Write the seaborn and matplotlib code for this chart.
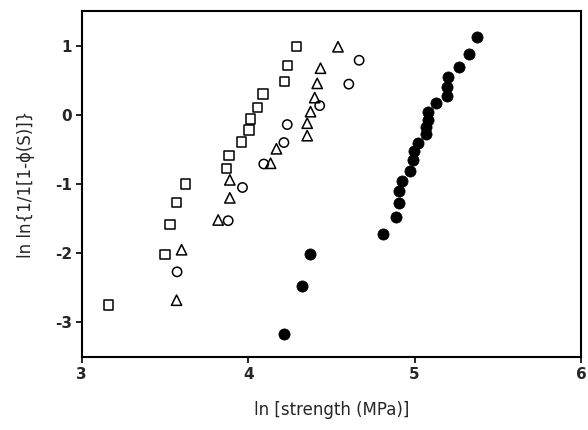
import matplotlib
matplotlib.use("Agg")
import matplotlib.pyplot as plt
import seaborn as sns
import pandas as pd

# Open squares
sq_x = [3.16, 3.50, 3.53, 3.57, 3.625, 3.87, 3.885, 3.96, 4.006, 4.014, 4.057, 4.09, 4.22, 4.235, 4.29]
sq_y = [-2.75, -2.02, -1.59, -1.27, -1.00, -0.78, -0.59, -0.39, -0.22, -0.06, 0.105, 0.30, 0.48, 0.71, 0.985]

# Open triangles
tri_x = [3.57, 3.60, 3.82, 3.89, 3.89, 4.135, 4.17, 4.355, 4.355, 4.375, 4.40, 4.415, 4.435, 4.54]
tri_y = [-2.68, -1.95, -1.52, -1.20, -0.94, -0.70, -0.49, -0.30, -0.12, 0.047, 0.25, 0.456, 0.675, 0.985]

# Open circles
circ_x = [3.573, 3.88, 3.966, 4.094, 4.215, 4.235, 4.43, 4.605, 4.667]
circ_y = [-2.27, -1.53, -1.05, -0.71, -0.40, -0.14, 0.134, 0.445, 0.79]

# Filled circles
fill_x = [4.216, 4.322, 4.37, 4.81, 4.89, 4.906, 4.907, 4.926, 4.972, 4.992, 4.998, 5.022,
          5.069, 5.069, 5.083, 5.079, 5.129, 5.197, 5.197, 5.203, 5.269, 5.329, 5.373]
fill_y = [-3.17, -2.47, -2.01, -1.72, -1.48, -1.28, -1.10, -0.95, -0.805, -0.65, -0.52, -0.40,
          -0.28, -0.17, -0.07, 0.047, 0.167, 0.28, 0.41, 0.55, 0.69, 0.875, 1.13]

xticks = [3, 4, 5, 6]
yticks = [-3, -2, -1, 0, 1]

sns.set_theme(style="white")
plt.rcParams['font.family'] = ['DejaVu Sans']

fig = plt.figure(figsize=(5.88, 4.30), dpi=100)
ax = fig.add_axes([0.139, 0.170, 0.849, 0.804])

sns.scatterplot(x=sq_x, y=sq_y, marker='s', s=45, facecolor='none', edgecolor='black',
                linewidth=1.1, ax=ax)
sns.scatterplot(x=tri_x, y=tri_y, marker='^', s=55, facecolor='none', edgecolor='black',
                linewidth=1.1, ax=ax)
sns.scatterplot(x=circ_x, y=circ_y, marker='o', s=45, facecolor='none', edgecolor='black',
                linewidth=1.1, ax=ax)
sns.scatterplot(x=fill_x, y=fill_y, marker='o', s=65, color='black', edgecolor='black',
                linewidth=0.5, ax=ax)

ax.set_xlim(3, 6)
ax.set_ylim(-3.5, 1.5)
ax.set_xticks(xticks)
ax.set_yticks(yticks)
ax.set_xticklabels([str(t) for t in xticks], fontsize=11, fontweight='bold')
ax.set_yticklabels([str(t) for t in yticks], fontsize=11, fontweight='bold')
ax.tick_params(axis='both', direction='out', length=4, width=1.2, color='black',
               bottom=True, left=True, pad=3)
for sp in ax.spines.values():
    sp.set_visible(True)
    sp.set_color('black')
    sp.set_linewidth(1.5)

ax.set_xlabel("ln [strength (MPa)]", fontsize=12, labelpad=14)
ax.set_ylabel("ln ln{1/1[1-\u03d5(S)]}", fontsize=12, labelpad=14)

fig.savefig("out.png", dpi=100)
